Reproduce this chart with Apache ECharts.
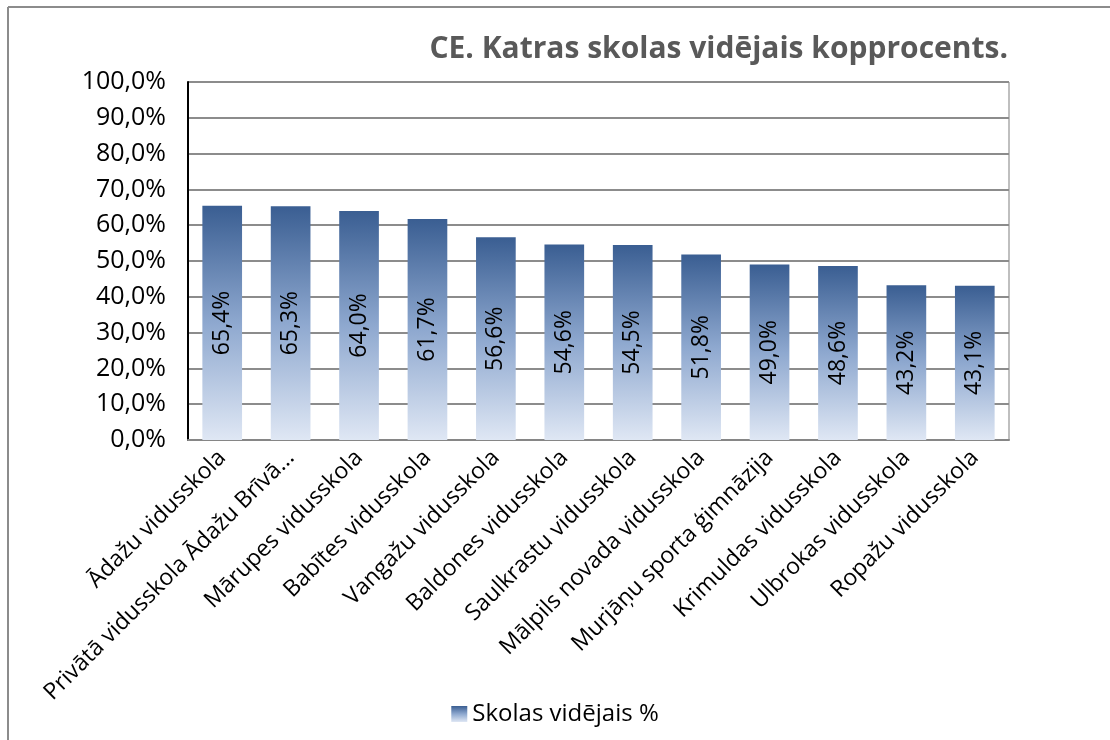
<!DOCTYPE html>
<html lang="lv">
<head>
    <meta charset="UTF-8">
    <title>CE. Katras skolas vidējais kopprocents.</title>
    <script src="https://cdn.jsdelivr.net/npm/echarts@6/dist/echarts.min.js"></script>
    <style>
        html, body { margin: 0; padding: 0; background: #fff; }
        #chart { width: 1110px; height: 740px; }
    </style>
</head>
<body>
<div id="chart"></div>
<script>
    // skolas
    var schools = [
        'Ādažu vidusskola',
        'Privātā vidusskola Ādažu Brīvā...',
        'Mārupes vidusskola',
        'Babītes vidusskola',
        'Vangažu vidusskola',
        'Baldones vidusskola',
        'Saulkrastu vidusskola',
        'Mālpils novada vidusskola',
        'Murjāņu sporta ģimnāzija',
        'Krimuldas vidusskola',
        'Ulbrokas vidusskola',
        'Ropažu vidusskola'
    ];
    var avgPercent = [65.4, 65.3, 64.0, 61.7, 56.6, 54.6, 54.5, 51.8, 49.0, 48.6, 43.2, 43.1];
    var yTicks = [0, 10, 20, 30, 40, 50, 60, 70, 80, 90, 100];

    var fontFam = '"Open Sans", "Noto Sans", sans-serif';
    function pct(v) { return v.toFixed(1).replace('.', ',') + '%'; }

    var barFill = new echarts.graphic.LinearGradient(0, 0, 0, 1, [
        { offset: 0, color: '#3a5e92' },
        { offset: 0.5, color: '#8ea8cf' },
        { offset: 1, color: '#dfe7f4' }
    ]);

    var chart = echarts.init(document.getElementById('chart'));
    chart.setOption({
        backgroundColor: '#fff',
        animation: false,
        title: {
            text: 'CE. Katras skolas vidējais kopprocents.',
            right: 97,
            top: 29,
            textStyle: { fontFamily: fontFam, fontSize: 30, fontWeight: 'bold', color: '#595959' }
        },
        legend: {
            bottom: 9,
            left: 'center',
            icon: 'rect',
            itemWidth: 16,
            itemHeight: 16,
            itemGap: 6,
            textStyle: { fontFamily: fontFam, fontSize: 24, color: '#000' },
            data: ['Skolas vidējais %']
        },
        grid: { left: 188, right: 101, top: 82, bottom: 300, containLabel: false },
        xAxis: {
            type: 'category',
            data: schools,
            axisLine: { lineStyle: { color: '#868686', width: 2 } },
            axisTick: { show: false },
            axisLabel: { interval: 0, rotate: 45, margin: 14, fontFamily: fontFam, fontSize: 23, color: '#000' }
        },
        yAxis: {
            type: 'value',
            min: yTicks[0],
            max: yTicks[yTicks.length - 1],
            interval: 10,
            axisLine: { show: true, lineStyle: { color: '#000', width: 2 } },
            axisTick: { show: false },
            axisLabel: { formatter: pct, margin: 22, fontFamily: fontFam, fontSize: 25, color: '#000' },
            splitLine: { lineStyle: { color: '#8c8c8c', width: 2 } }
        },
        series: [{
            name: 'Skolas vidējais %',
            type: 'bar',
            data: avgPercent,
            barWidth: '58%',
            itemStyle: { color: barFill },
            label: {
                show: true,
                position: 'inside',
                rotate: 90,
                formatter: function (p) { return pct(p.value); },
                fontFamily: fontFam,
                fontSize: 23,
                color: '#000'
            }
        }],
        graphic: [
            { type: 'line', shape: { x1: 8, y1: 7, x2: 1110, y2: 7 }, style: { stroke: '#8c8c8c', lineWidth: 2 } },
            { type: 'line', shape: { x1: 8, y1: 7, x2: 8, y2: 740 }, style: { stroke: '#8c8c8c', lineWidth: 2 } },
            { type: 'line', shape: { x1: 1009, y1: 82, x2: 1009, y2: 440 }, style: { stroke: '#bfbfbf', lineWidth: 2 } }
        ]
    });
</script>
</body>
</html>
